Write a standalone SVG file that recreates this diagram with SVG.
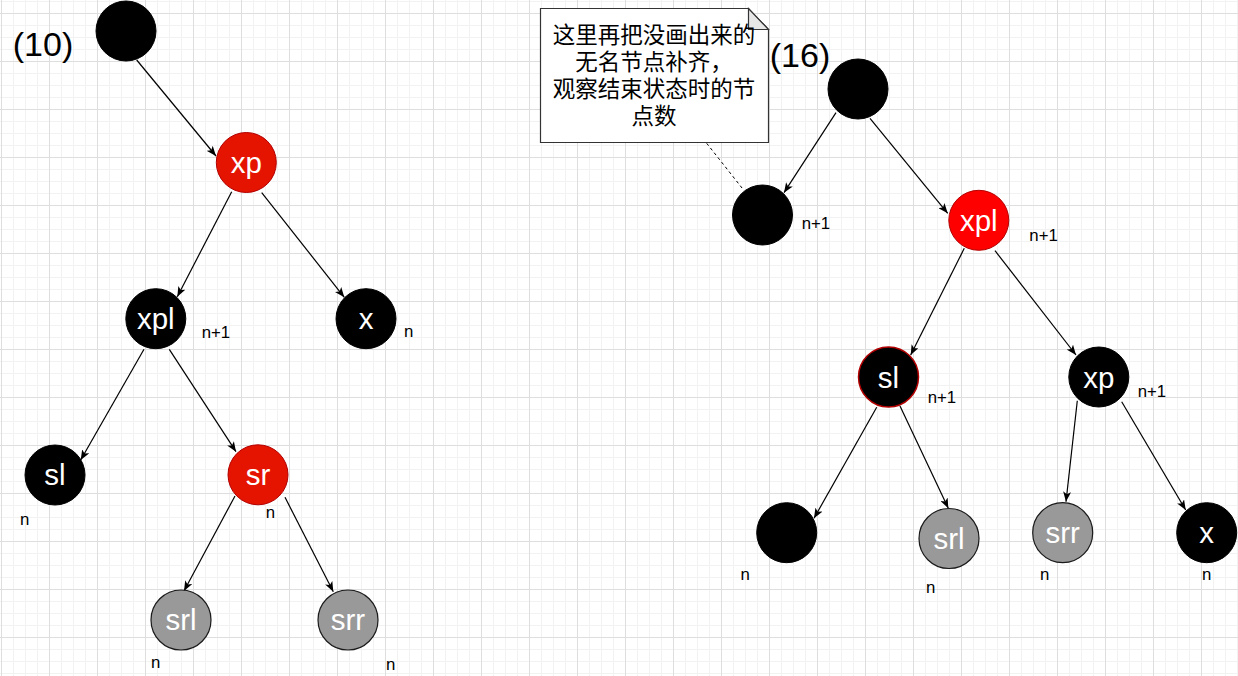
<svg xmlns="http://www.w3.org/2000/svg" width="1238" height="676" viewBox="0 0 1238 676">
<defs>
<pattern id="minor" x="1" y="1" width="12" height="12" patternUnits="userSpaceOnUse">
<path d="M0.5 0V12M0 0.5H12" stroke="#f2f2f2" stroke-width="1" fill="none"/>
</pattern>
<pattern id="major" x="1" y="13" width="48" height="48" patternUnits="userSpaceOnUse">
<path d="M0.5 0V48M0 0.5H48" stroke="#dedede" stroke-width="1" fill="none"/>
</pattern>
<marker id="arr" viewBox="0 0 10 8" refX="10" refY="4" markerWidth="10" markerHeight="8" markerUnits="userSpaceOnUse" orient="auto">
<path d="M0,0 L10,4 L0,8 L2.5,4 Z" fill="#000"/>
</marker>
<style>
.edge{stroke:#000;stroke-width:1.2;fill:none;marker-end:url(#arr)}
.blk{fill:#000;stroke:#000;stroke-width:1}
.red1{fill:#e51400;stroke:#b20000;stroke-width:1}
.red2{fill:#ff0000;stroke:#b20000;stroke-width:1}
.blkr{fill:#000;stroke:#b20000;stroke-width:1.5}
.gry{fill:#999999;stroke:#1a1a1a;stroke-width:1.2}
.nt{font-family:"Liberation Sans",Arial,sans-serif;font-size:29.5px;fill:#fff;text-anchor:middle}
.lb{font-family:"Liberation Sans",Arial,sans-serif;font-size:16.8px;fill:#000}
.ttl{font-family:"Liberation Sans",Arial,sans-serif;font-size:34px;fill:#000;text-anchor:middle}
.cjk{font-family:"Liberation Sans","Noto Sans CJK SC",sans-serif;font-size:22.5px;fill:#000;text-anchor:middle}
</style>
</defs>
<rect width="1238" height="676" fill="#fff"/>
<rect width="1238" height="676" fill="url(#minor)"/>
<rect width="1238" height="676" fill="url(#major)"/>

<g id="connectors">
<line class="edge" x1="136.7" y1="60" x2="216" y2="156"/>
<line class="edge" x1="231.7" y1="191.7" x2="177.3" y2="296.7"/>
<line class="edge" x1="261.7" y1="192.7" x2="344.3" y2="297.3"/>
<line class="edge" x1="144" y1="349.3" x2="80.7" y2="460"/>
<line class="edge" x1="169.3" y1="349.3" x2="236" y2="451.7"/>
<line class="edge" x1="235" y1="496" x2="184" y2="591"/>
<line class="edge" x1="285" y1="497.3" x2="333.3" y2="591.7"/>
<line class="edge" x1="836" y1="112.7" x2="784" y2="192.7"/>
<line class="edge" x1="870" y1="118.3" x2="947.7" y2="213.3"/>
<line class="edge" x1="964.3" y1="248.3" x2="910.7" y2="355"/>
<line class="edge" x1="995" y1="250.7" x2="1076" y2="355"/>
<line class="edge" x1="876.7" y1="407.3" x2="814" y2="518.3"/>
<line class="edge" x1="900" y1="406" x2="948.3" y2="508.3"/>
<line class="edge" x1="1077.3" y1="400.7" x2="1066" y2="501.7"/>
<line class="edge" x1="1121.7" y1="401.7" x2="1185.7" y2="510"/>
<line x1="706.7" y1="143.3" x2="744" y2="190.5" stroke="#000" stroke-width="1" stroke-dasharray="3 3"/>
</g>

<text class="ttl" x="43" y="56">(10)</text>
<text class="ttl" x="800" y="67">(16)</text>

<g id="note">
<path d="M540.5 8.5 H748.5 L768.5 29.5 V142.5 H540.5 Z" fill="#fff" stroke="#333" stroke-width="1.2"/>
<path d="M748.5 8.5 V29.5 H768.5 Z" fill="#e6e6e6" stroke="#333" stroke-width="1.2"/>
<text class="cjk" x="654" y="43">这里再把没画出来的</text>
<text class="cjk" x="654" y="70">无名节点补齐，</text>
<text class="cjk" x="654" y="97">观察结束状态时的节</text>
<text class="cjk" x="654" y="124">点数</text>
</g>

<g id="L_root"><circle class="blk" cx="126" cy="31" r="30"/></g>
<g id="L_xp"><circle class="red1" cx="246.3" cy="162.5" r="30"/><text class="nt" x="246.3" y="173">xp</text></g>
<g id="L_xpl"><circle class="blk" cx="155.8" cy="318.7" r="30"/><text class="nt" x="155.8" y="329">xpl</text></g>
<g id="L_x"><circle class="blk" cx="366" cy="318.7" r="30"/><text class="nt" x="366" y="329">x</text></g>
<g id="L_sl"><circle class="blk" cx="55" cy="475" r="30"/><text class="nt" x="55" y="485">sl</text></g>
<g id="L_sr"><circle class="red1" cx="258" cy="474.8" r="30"/><text class="nt" x="258" y="485">sr</text></g>
<g id="L_srl"><circle class="gry" cx="181" cy="620" r="30"/><text class="nt" x="181" y="630">srl</text></g>
<g id="L_srr"><circle class="gry" cx="348" cy="620" r="30"/><text class="nt" x="348" y="630">srr</text></g>

<g id="L_labels">
<text class="lb" x="201.7" y="338.3">n+1</text>
<text class="lb" x="404" y="337">n</text>
<text class="lb" x="20" y="525">n</text>
<text class="lb" x="265.7" y="517.7">n</text>
<text class="lb" x="151" y="668">n</text>
<text class="lb" x="386" y="670">n</text>
</g>

<g id="R_root"><circle class="blk" cx="858" cy="89" r="30"/></g>
<g id="R_left"><circle class="blk" cx="762.5" cy="215" r="30"/></g>
<g id="R_xpl"><circle class="red2" cx="978.8" cy="220.3" r="30"/><text class="nt" x="978.8" y="231">xpl</text></g>
<g id="R_sl"><circle class="blkr" cx="888.5" cy="377" r="30"/><text class="nt" x="888.5" y="387.5">sl</text></g>
<g id="R_xp"><circle class="blk" cx="1098.8" cy="377" r="30"/><text class="nt" x="1098.8" y="387.5">xp</text></g>
<g id="R_nil"><circle class="blk" cx="786.7" cy="532.7" r="30"/></g>
<g id="R_srl"><circle class="gry" cx="949" cy="538.5" r="30"/><text class="nt" x="949" y="549">srl</text></g>
<g id="R_srr"><circle class="gry" cx="1062.7" cy="532.7" r="30"/><text class="nt" x="1062.7" y="543">srr</text></g>
<g id="R_x"><circle class="blk" cx="1206.7" cy="532.7" r="30"/><text class="nt" x="1206.7" y="543">x</text></g>

<g id="R_labels">
<text class="lb" x="801.7" y="229">n+1</text>
<text class="lb" x="1029.3" y="240.7">n+1</text>
<text class="lb" x="927.7" y="402.7">n+1</text>
<text class="lb" x="1137.7" y="396.7">n+1</text>
<text class="lb" x="740.5" y="580">n</text>
<text class="lb" x="926" y="592.5">n</text>
<text class="lb" x="1040" y="580">n</text>
<text class="lb" x="1202" y="580">n</text>
</g>
</svg>
